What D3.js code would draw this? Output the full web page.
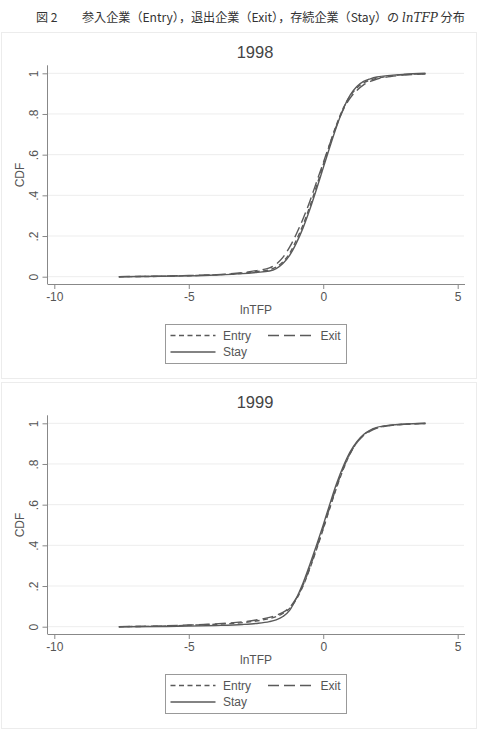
<!DOCTYPE html>
<html>
<head>
<meta charset="utf-8">
<script src="https://cdn.jsdelivr.net/npm/d3@7"></script>
<style>
  html, body { margin: 0; padding: 0; background: #ffffff; }
  svg { display: block; }
</style>
</head>
<body>
<svg id="chart" width="478" height="729"></svg>
<script>
// ---- Data ----
const years = ["1998", "1999"];
const seriesNames = ["Entry", "Exit", "Stay"];
const lnTFP = [-7.6, -6, -5, -4, -3, -2.5, -2, -1.75, -1.5, -1.25, -1, -0.75, -0.5, -0.25, 0, 0.25, 0.5, 0.75, 1, 1.25, 1.5, 1.75, 2, 2.5, 3, 3.8];

const entry1998 = [0, 0.002, 0.005, 0.009, 0.017, 0.025, 0.034, 0.047, 0.073, 0.115, 0.18, 0.255, 0.345, 0.445, 0.55, 0.655, 0.75, 0.83, 0.888, 0.928, 0.953, 0.967, 0.976, 0.987, 0.993, 0.998];
const exit1998  = [0, 0.003, 0.006, 0.01, 0.02, 0.03, 0.043, 0.062, 0.095, 0.145, 0.21, 0.285, 0.37, 0.465, 0.56, 0.655, 0.745, 0.822, 0.878, 0.916, 0.943, 0.96, 0.972, 0.984, 0.991, 0.997];
const stay1998  = [0, 0.002, 0.004, 0.008, 0.015, 0.021, 0.028, 0.04, 0.065, 0.105, 0.165, 0.24, 0.33, 0.43, 0.535, 0.64, 0.74, 0.827, 0.893, 0.935, 0.96, 0.973, 0.982, 0.99, 0.995, 1.0];

const entry1999 = [0, 0.003, 0.007, 0.012, 0.02, 0.028, 0.04, 0.05, 0.065, 0.09, 0.135, 0.2, 0.285, 0.38, 0.48, 0.585, 0.685, 0.775, 0.85, 0.905, 0.942, 0.965, 0.978, 0.99, 0.995, 0.999];
const exit1999  = [0, 0.004, 0.008, 0.014, 0.024, 0.033, 0.046, 0.056, 0.07, 0.095, 0.14, 0.205, 0.29, 0.385, 0.485, 0.59, 0.69, 0.78, 0.852, 0.905, 0.94, 0.962, 0.976, 0.989, 0.995, 0.999];
const stay1999  = [0, 0.001, 0.003, 0.006, 0.011, 0.016, 0.025, 0.034, 0.05, 0.08, 0.14, 0.215, 0.305, 0.4, 0.5, 0.605, 0.705, 0.79, 0.86, 0.91, 0.945, 0.967, 0.98, 0.991, 0.996, 1.0];

const xTicks = [-10, -5, 0, 5];
const yTicks = [0, 0.2, 0.4, 0.6, 0.8, 1];
const yTickLabels = ["0", ".2", ".4", ".6", ".8", "1"];

const panelData = {
  "1998": { Entry: entry1998, Exit: exit1998, Stay: stay1998 },
  "1999": { Entry: entry1999, Exit: exit1999, Stay: stay1999 }
};

// ---- Styles ----
const dashes = { Entry: "5,3.5", Exit: "11,5", Stay: null };
const lineColor = "#5a5a5a";
const textColor = "#555";
const font = "'Liberation Sans', Arial, sans-serif";

const svg = d3.select("#chart");

// Figure caption
const cap = svg.append("text")
  .attr("x", 36).attr("y", 22)
  .attr("font-family", "'Noto Sans CJK JP', sans-serif")
  .attr("font-size", 12.1)
  .attr("fill", "#333");
cap.append("tspan").text("図 2");
cap.append("tspan").attr("x", 82).text("参入企業（Entry），退出企業（Exit），存続企業（Stay）の ");
cap.append("tspan")
  .attr("font-family", "'DejaVu Serif', 'Liberation Serif', serif")
  .attr("font-style", "italic")
  .attr("font-size", 12)
  .text("lnTFP");
cap.append("tspan").text(" 分布");

const panelTops = [32, 382];

years.forEach((yr, i) => {
  const off = panelTops[i];
  const g = svg.append("g").attr("transform", `translate(0,${off})`);

  g.append("rect")
    .attr("x", 1.5).attr("y", 0.5)
    .attr("width", 475).attr("height", 346)
    .attr("fill", "#fff")
    .attr("stroke", "#ececec").attr("stroke-width", 1);

  const x = d3.scaleLinear().domain([-10, 5]).range([54.3, 457.7]);
  const y = d3.scaleLinear().domain([0, 1]).range([244.7, 41.3]);

  // Title
  g.append("text")
    .attr("x", 255).attr("y", 26)
    .attr("text-anchor", "middle")
    .attr("font-family", font).attr("font-size", 16.5)
    .attr("fill", "#444")
    .text(yr);

  // Gridlines
  g.append("g").selectAll("line").data(yTicks).join("line")
    .attr("x1", 48).attr("x2", 464)
    .attr("y1", d => y(d)).attr("y2", d => y(d))
    .attr("stroke", "#ededed").attr("stroke-width", 1);

  // Y axis
  const yAxis = d3.axisLeft(y).tickValues(yTicks)
    .tickFormat((d, k) => yTickLabels[k]).tickSize(5).tickPadding(4);
  const ya = g.append("g").attr("transform", "translate(47.5,0)").call(yAxis);
  ya.select(".domain").attr("stroke", "#888").attr("d", `M-0,${y(1) - 8}V${252}`);
  ya.selectAll(".tick line").attr("stroke", "#888");
  ya.selectAll(".tick text")
    .attr("font-family", font).attr("font-size", 12).attr("fill", textColor)
    .each(function (d) {
      d3.select(this).attr("x", null).attr("dy", null)
        .attr("text-anchor", "middle")
        .attr("transform", `translate(-14,0) rotate(-90)`)
        .attr("y", 0).attr("dy", "0.35em");
    });

  // X axis
  const xAxis = d3.axisBottom(x).tickValues(xTicks).tickSize(5).tickPadding(3)
    .tickFormat(d3.format("d"));
  const xa = g.append("g").attr("transform", "translate(0,252)").call(xAxis);
  xa.select(".domain").attr("stroke", "#888").attr("d", `M47.5,0.5H465`);
  xa.selectAll(".tick line").attr("stroke", "#888");
  xa.selectAll(".tick text")
    .attr("font-family", font).attr("font-size", 12).attr("fill", textColor)
    .text(d => d < 0 ? "-" + Math.abs(d) : d);

  // Axis titles
  g.append("text")
    .attr("x", 256).attr("y", 282)
    .attr("text-anchor", "middle")
    .attr("font-family", font).attr("font-size", 12).attr("fill", textColor)
    .text("lnTFP");
  g.append("text")
    .attr("transform", `translate(20,${143}) rotate(-90)`)
    .attr("text-anchor", "middle").attr("dy", "0.35em")
    .attr("font-family", font).attr("font-size", 12).attr("fill", textColor)
    .text("CDF");

  // Lines
  const line = d3.line().curve(d3.curveMonotoneX)
    .x((d, k) => x(lnTFP[k])).y(d => y(d));
  ["Stay", "Exit", "Entry"].forEach(s => {
    g.append("path")
      .datum(panelData[yr][s])
      .attr("d", line)
      .attr("fill", "none")
      .attr("stroke", lineColor)
      .attr("stroke-width", 1.4)
      .attr("stroke-dasharray", dashes[s]);
  });

  // Legend
  const lg = g.append("g");
  lg.append("rect")
    .attr("x", 165.5).attr("y", 292.5)
    .attr("width", 181).attr("height", 39)
    .attr("fill", "#fff").attr("stroke", "#999").attr("stroke-width", 1);
  const items = [
    { name: "Entry", lx: 170.5, ty: 303.5 },
    { name: "Exit", lx: 268, ty: 303.5 },
    { name: "Stay", lx: 170.5, ty: 320 }
  ];
  items.forEach(it => {
    lg.append("line")
      .attr("x1", it.lx).attr("x2", it.lx + 45)
      .attr("y1", it.ty).attr("y2", it.ty)
      .attr("stroke", lineColor).attr("stroke-width", 1.4)
      .attr("stroke-dasharray", dashes[it.name]);
    lg.append("text")
      .attr("x", it.lx + 52.5).attr("y", it.ty).attr("dy", "0.35em")
      .attr("font-family", font).attr("font-size", 12).attr("fill", textColor)
      .text(it.name);
  });
});
</script>
</body>
</html>
